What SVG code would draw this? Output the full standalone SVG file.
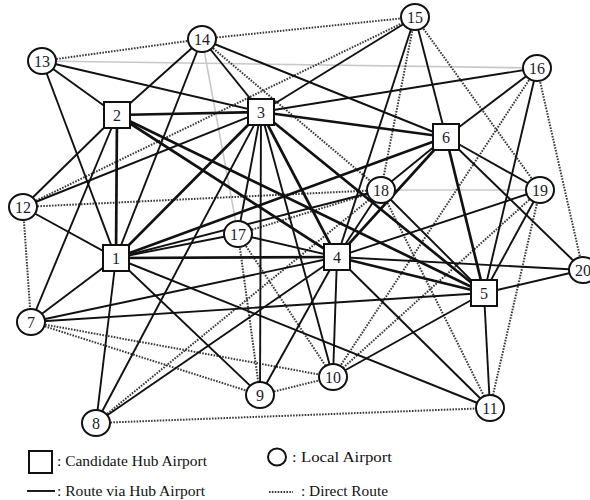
<svg xmlns="http://www.w3.org/2000/svg" width="590" height="500" viewBox="0 0 590 500">
<style>
.g{stroke:#c8c8c8;stroke-width:1.6;fill:none}
.d{stroke:#3a3a3a;stroke-width:2;stroke-dasharray:1.6 1.3;fill:none}
.s{stroke:#111;stroke-width:1.9;fill:none}
.h{stroke:#111;stroke-width:2.7;fill:none}
.n{fill:#fff;stroke:#111;stroke-width:2}
.t{font-family:"Liberation Serif","Times New Roman",serif;font-size:16px;fill:#1a1a2e;text-anchor:middle;dominant-baseline:central}
.l{font-family:"Liberation Serif","Times New Roman",serif;font-size:15.5px;fill:#111}
</style>
<rect width="590" height="500" fill="#fff"/>
<g id="connectors">
<g id="gray">
<line class="g" x1="42" y1="61" x2="537" y2="68"/>
<line class="g" x1="381" y1="190" x2="540" y2="190"/>
<line class="g" x1="202" y1="39" x2="238" y2="234"/>
</g>
<g id="direct">
<line class="d" x1="42" y1="61" x2="202" y2="39"/>
<line class="d" x1="202" y1="39" x2="415" y2="17"/>
<line class="d" x1="23" y1="207" x2="415" y2="17"/>
<line class="d" x1="202" y1="39" x2="381" y2="190"/>
<line class="d" x1="415" y1="17" x2="381" y2="190"/>
<line class="d" x1="415" y1="17" x2="540" y2="190"/>
<line class="d" x1="23" y1="207" x2="381" y2="190"/>
<line class="d" x1="23" y1="207" x2="31" y2="322"/>
<line class="d" x1="238" y1="234" x2="381" y2="190"/>
<line class="d" x1="96" y1="423" x2="381" y2="190"/>
<line class="d" x1="238" y1="234" x2="260" y2="395"/>
<line class="d" x1="238" y1="234" x2="333" y2="377"/>
<line class="d" x1="31" y1="322" x2="260" y2="395"/>
<line class="d" x1="31" y1="322" x2="333" y2="377"/>
<line class="d" x1="260" y1="395" x2="333" y2="377"/>
<line class="d" x1="96" y1="423" x2="490" y2="408"/>
<line class="d" x1="381" y1="190" x2="490" y2="408"/>
<line class="d" x1="540" y1="190" x2="490" y2="408"/>
<line class="d" x1="540" y1="190" x2="333" y2="377"/>
<line class="d" x1="537" y1="68" x2="333" y2="377"/>
<line class="d" x1="537" y1="68" x2="583" y2="270"/>
</g>
<g id="via-hub">
<line class="s" x1="42" y1="61" x2="117" y2="115"/>
<line class="s" x1="42" y1="61" x2="116" y2="258"/>
<line class="s" x1="42" y1="61" x2="261" y2="112"/>
<line class="s" x1="202" y1="39" x2="117" y2="115"/>
<line class="s" x1="202" y1="39" x2="116" y2="258"/>
<line class="s" x1="202" y1="39" x2="261" y2="112"/>
<line class="s" x1="202" y1="39" x2="446" y2="137"/>
<line class="s" x1="415" y1="17" x2="261" y2="112"/>
<line class="s" x1="415" y1="17" x2="446" y2="137"/>
<line class="s" x1="415" y1="17" x2="337" y2="257"/>
<line class="s" x1="537" y1="68" x2="261" y2="112"/>
<line class="s" x1="537" y1="68" x2="446" y2="137"/>
<line class="s" x1="537" y1="68" x2="484" y2="293"/>
<line class="s" x1="540" y1="190" x2="446" y2="137"/>
<line class="s" x1="540" y1="190" x2="337" y2="257"/>
<line class="s" x1="540" y1="190" x2="484" y2="293"/>
<line class="s" x1="583" y1="270" x2="446" y2="137"/>
<line class="s" x1="583" y1="270" x2="337" y2="257"/>
<line class="s" x1="583" y1="270" x2="484" y2="293"/>
<line class="s" x1="381" y1="190" x2="446" y2="137"/>
<line class="s" x1="381" y1="190" x2="337" y2="257"/>
<line class="s" x1="381" y1="190" x2="484" y2="293"/>
<line class="s" x1="381" y1="190" x2="116" y2="258"/>
<line class="s" x1="238" y1="234" x2="116" y2="258"/>
<line class="s" x1="238" y1="234" x2="261" y2="112"/>
<line class="s" x1="238" y1="234" x2="337" y2="257"/>
<line class="s" x1="23" y1="207" x2="117" y2="115"/>
<line class="s" x1="23" y1="207" x2="116" y2="258"/>
<line class="s" x1="23" y1="207" x2="261" y2="112"/>
<line class="s" x1="31" y1="322" x2="116" y2="258"/>
<line class="s" x1="31" y1="322" x2="117" y2="115"/>
<line class="s" x1="31" y1="322" x2="337" y2="257"/>
<line class="s" x1="31" y1="322" x2="484" y2="293"/>
<line class="s" x1="96" y1="423" x2="116" y2="258"/>
<line class="s" x1="96" y1="423" x2="261" y2="112"/>
<line class="s" x1="96" y1="423" x2="337" y2="257"/>
<line class="s" x1="260" y1="395" x2="116" y2="258"/>
<line class="s" x1="260" y1="395" x2="261" y2="112"/>
<line class="s" x1="260" y1="395" x2="337" y2="257"/>
<line class="s" x1="333" y1="377" x2="261" y2="112"/>
<line class="s" x1="333" y1="377" x2="337" y2="257"/>
<line class="s" x1="333" y1="377" x2="484" y2="293"/>
<line class="s" x1="490" y1="408" x2="116" y2="258"/>
<line class="s" x1="490" y1="408" x2="337" y2="257"/>
<line class="s" x1="490" y1="408" x2="484" y2="293"/>
</g>
<g id="hub-hub">
<line class="h" x1="116" y1="258" x2="117" y2="115"/>
<line class="h" x1="116" y1="258" x2="261" y2="112"/>
<line class="h" x1="116" y1="258" x2="337" y2="257"/>
<line class="h" x1="116" y1="258" x2="446" y2="137"/>
<line class="h" x1="117" y1="115" x2="261" y2="112"/>
<line class="h" x1="117" y1="115" x2="337" y2="257"/>
<line class="h" x1="117" y1="115" x2="484" y2="293"/>
<line class="h" x1="261" y1="112" x2="446" y2="137"/>
<line class="h" x1="261" y1="112" x2="337" y2="257"/>
<line class="h" x1="261" y1="112" x2="484" y2="293"/>
<line class="h" x1="337" y1="257" x2="484" y2="293"/>
<line class="h" x1="337" y1="257" x2="446" y2="137"/>
<line class="h" x1="484" y1="293" x2="446" y2="137"/>
</g>
</g>
<g id="n1"><rect class="n" x="103" y="245" width="26" height="26"/><text class="t" x="116" y="258">1</text></g>
<g id="n2"><rect class="n" x="104" y="102" width="26" height="26"/><text class="t" x="117" y="115">2</text></g>
<g id="n3"><rect class="n" x="248" y="99" width="26" height="26"/><text class="t" x="261" y="112">3</text></g>
<g id="n4"><rect class="n" x="324" y="244" width="26" height="26"/><text class="t" x="337" y="257">4</text></g>
<g id="n5"><rect class="n" x="471" y="280" width="26" height="26"/><text class="t" x="484" y="293">5</text></g>
<g id="n6"><rect class="n" x="433" y="124" width="26" height="26"/><text class="t" x="446" y="137">6</text></g>
<g id="n7"><ellipse class="n" cx="31" cy="322" rx="14" ry="13"/><text class="t" x="31" y="322">7</text></g>
<g id="n8"><ellipse class="n" cx="96" cy="423" rx="14" ry="13"/><text class="t" x="96" y="423">8</text></g>
<g id="n9"><ellipse class="n" cx="260" cy="395" rx="14" ry="13"/><text class="t" x="260" y="395">9</text></g>
<g id="n10"><ellipse class="n" cx="333" cy="377" rx="14" ry="13"/><text class="t" x="333" y="377">10</text></g>
<g id="n11"><ellipse class="n" cx="490" cy="408" rx="14" ry="13"/><text class="t" x="490" y="408">11</text></g>
<g id="n12"><ellipse class="n" cx="23" cy="207" rx="14" ry="13"/><text class="t" x="23" y="207">12</text></g>
<g id="n13"><ellipse class="n" cx="42" cy="61" rx="14" ry="13"/><text class="t" x="42" y="61">13</text></g>
<g id="n14"><ellipse class="n" cx="202" cy="39" rx="14" ry="13"/><text class="t" x="202" y="39">14</text></g>
<g id="n15"><ellipse class="n" cx="415" cy="17" rx="14" ry="13"/><text class="t" x="415" y="17">15</text></g>
<g id="n16"><ellipse class="n" cx="537" cy="68" rx="14" ry="13"/><text class="t" x="537" y="68">16</text></g>
<g id="n17"><ellipse class="n" cx="238" cy="234" rx="14" ry="13"/><text class="t" x="238" y="234">17</text></g>
<g id="n18"><ellipse class="n" cx="381" cy="190" rx="14" ry="13"/><text class="t" x="381" y="190">18</text></g>
<g id="n19"><ellipse class="n" cx="540" cy="190" rx="14" ry="13"/><text class="t" x="540" y="190">19</text></g>
<g id="n20"><ellipse class="n" cx="583" cy="270" rx="14" ry="13"/><text class="t" x="583" y="270">20</text></g>
<g id="legend">
<rect class="n" x="29" y="451" width="23" height="22" stroke-width="1.6"/>
<text class="l" x="57" y="466" textLength="150" lengthAdjust="spacingAndGlyphs">: Candidate Hub Airport</text>
<ellipse class="n" cx="277" cy="457" rx="9" ry="8.5" stroke-width="1.6"/>
<text class="l" x="292" y="462" textLength="100" lengthAdjust="spacingAndGlyphs">: Local Airport</text>
<line class="s" x1="27" y1="491" x2="55" y2="491" stroke-width="1.3"/>
<text class="l" x="57" y="496" textLength="148" lengthAdjust="spacingAndGlyphs">: Route via Hub Airport</text>
<line class="d" x1="269" y1="492" x2="293" y2="492" stroke-width="1.3"/>
<text class="l" x="301" y="496" textLength="87" lengthAdjust="spacingAndGlyphs">: Direct Route</text>
</g>
</svg>
